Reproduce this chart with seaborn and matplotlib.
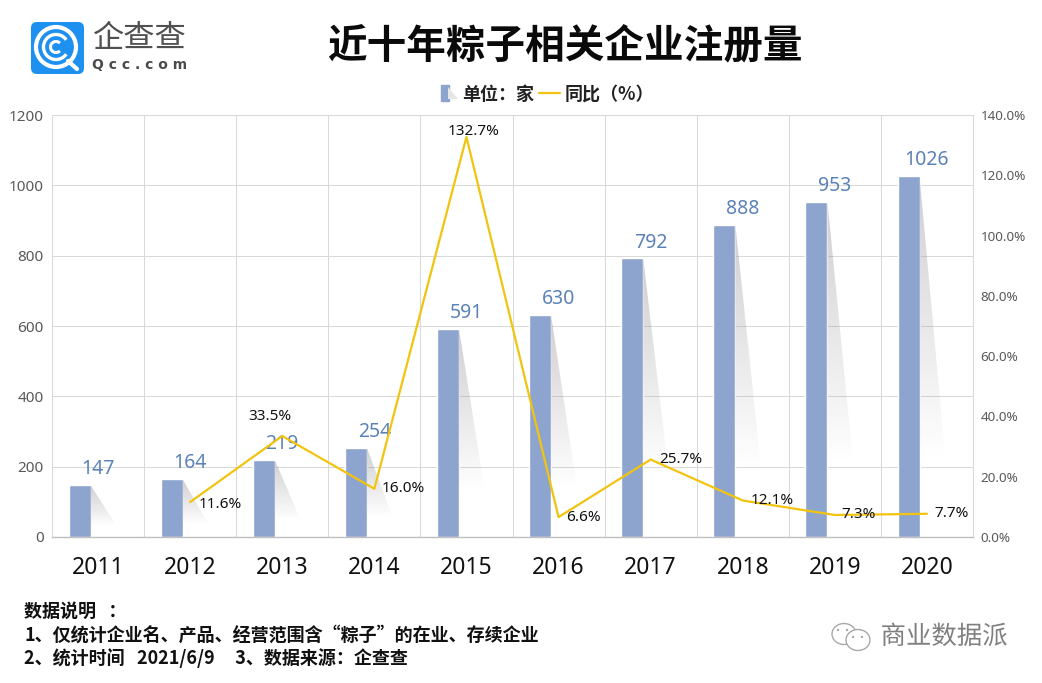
#%%
# Imports
import numpy as np
import pandas as pd
import matplotlib.pyplot as plt
import seaborn as sns
from matplotlib.legend_handler import HandlerPatch
from matplotlib.lines import Line2D
from matplotlib.patches import Arc, Circle, Ellipse, FancyBboxPatch, Patch, Polygon, Rectangle
import matplotlib.patheffects as pe

#%%
# Dados
years = ['2011', '2012', '2013', '2014', '2015', '2016', '2017', '2018', '2019', '2020']
counts = [147, 164, 219, 254, 591, 630, 792, 888, 953, 1026]
yoy = [np.nan, 11.6, 33.5, 16.0, 132.7, 6.6, 25.7, 12.1, 7.3, 7.7]
yoy_labels = ['', '11.6%', '33.5%', '16.0%', '132.7%', '6.6%', '25.7%', '12.1%', '7.3%', '7.7%']
# label offsets in px from the line point
yoy_offsets = [(0, 0), (30, -2), (-12, 20), (29, 0), (7, 6), (25, 0), (30, 0), (29, 0), (24, 0), (25, 0)]

notes = ['数据说明   ：',
         '1、仅统计企业名、产品、经营范围含“粽子”的在业、存续企业',
         '2、统计时间   2021/6/9     3、数据来源：企查查']

BAR = '#8DA4CE'
LABEL = '#5B82B8'
LINE = '#F2C40F'
GRID = '#D9D9D9'
CJK = ['Noto Sans CJK SC', 'DejaVu Sans']

#%%
sns.set_theme(style='white')
plt.rcParams['font.family'] = ['Noto Sans', 'Noto Sans CJK SC', 'DejaVu Sans']

df = pd.DataFrame({'year': years, 'count': counts, 'yoy': yoy})

W, H = 1042, 683
fig = plt.figure(figsize=(W / 100, H / 100), dpi=100)
ax = fig.add_axes([52 / W, 1 - 537 / H, 921 / W, 422 / H])

sns.barplot(data=df, x='year', y='count', color=BAR, saturation=1, width=0.239, ax=ax)
ax.set_xlim(-0.5, 9.5)
ax.set_ylim(0, 1200)

# bars sit left of the category centre
for bar in ax.patches:
    bar.set_x(bar.get_x() - 0.2)

# grey fading shadow behind each bar
grad = np.zeros((256, 1, 4))
grad[..., :3] = 0.55
grad[..., 3] = np.linspace(0.42, 0, 256)[:, None]
for bar in list(ax.patches):
    xr = bar.get_x() + bar.get_width()
    top = bar.get_height()
    low = top * 0.22
    im = ax.imshow(grad, extent=[xr, xr + 0.28, low, top], aspect='auto', zorder=1)
    im.set_clip_path(Polygon([(xr, top), (xr + 0.28, low), (xr, low)], transform=ax.transData))
ax.set_xlim(-0.5, 9.5)
ax.set_ylim(0, 1200)

ax.set_xlabel('')
ax.set_ylabel('')
ax.set_axisbelow(True)
ax.set_yticks(range(0, 1201, 200))
ax.set_xticks(np.arange(0.5, 9.5), minor=True)
ax.grid(axis='y', color=GRID, lw=0.75)
ax.grid(axis='x', which='minor', color=GRID, lw=0.75)
ax.tick_params(axis='x', which='both', length=0)
ax.tick_params(axis='x', labelsize=16.5, labelcolor='#111111', pad=13.5)
ax.tick_params(axis='y', length=0, labelsize=11, labelcolor='#595959', pad=6)
for side in ['top', 'left', 'right']:
    ax.spines[side].set_color(GRID)
    ax.spines[side].set_linewidth(0.75)
ax.spines['bottom'].set_color('#BFBFBF')
ax.spines['bottom'].set_linewidth(1)

for i, c in enumerate(counts):
    ax.annotate(str(c), (i, c), xytext=(0, 11.5), textcoords='offset points',
                ha='center', va='center', fontsize=14, color=LABEL, zorder=6)

#%%
# Linha do crescimento no eixo direito
ax2 = ax.twinx()
sns.lineplot(data=df, x='year', y='yoy', color=LINE, lw=1.6, errorbar=None, ax=ax2)
ax2.set_ylim(0, 140)
ax2.set_yticks(range(0, 141, 20))
ax2.set_yticklabels([f'{v:.1f}%' for v in range(0, 141, 20)])
ax2.set_ylabel('')
ax2.set_xlabel('')
ax2.grid(False)
ax2.tick_params(axis='y', length=0, labelsize=9.7, labelcolor='#595959', pad=5.5)
for spine in ax2.spines.values():
    spine.set_visible(False)

for i, (val, lab, off) in enumerate(zip(yoy, yoy_labels, yoy_offsets)):
    if lab:
        ax2.annotate(lab, (i, val), xytext=(off[0] * 0.72, off[1] * 0.72), textcoords='offset points',
                     ha='center', va='center', fontsize=11, color='#111111', zorder=7)

#%%
# Legenda, título e notas
def narrow_bar(legend, orig_handle, xdescent, ydescent, width, height, fontsize):
    return Rectangle((width * 0.2, -1), width * 0.38, height + 2)

handles = [Patch(color=BAR, label='单位：家'), Line2D([], [], color=LINE, lw=1.6, label='同比（%）')]
fig.legend(handles=handles, loc='center', bbox_to_anchor=(545.5 / W, 1 - 94 / H), ncol=2, frameon=False,
           prop={'family': CJK, 'size': 13, 'weight': 'bold'}, labelcolor='#222222', handlelength=1.17,
           handletextpad=0.22, columnspacing=0.28, handler_map={handles[0]: HandlerPatch(patch_func=narrow_bar)})

fig.text(565 / W, 1 - 46 / H, '近十年粽子相关企业注册量', ha='center', va='center',
         fontsize=28.5, fontweight='bold', color='#0a0a0a', family=CJK)

for y, line in zip([611, 635, 658], notes):
    fig.text(24 / W, 1 - y / H, line, ha='left', va='center', fontsize=13, fontweight='bold',
             color='#111111', family=CJK)

#%%
# Logo e marca d'água, desenhados em coordenadas de pixel
over = fig.add_axes([0, 0, 1, 1], zorder=10)
over.set_xlim(0, W)
over.set_ylim(H, 0)
over.axis('off')

# sombra da amostra na legenda
over.add_patch(Polygon([(448, 87), (458, 99), (448, 99)], fc='#e6e6e6', ec='none'))

over.add_patch(FancyBboxPatch((36, 27), 43, 42, boxstyle='round,pad=5,rounding_size=6', fc='#1E90F0', ec='none'))
over.add_patch(Circle((56, 47), 20, fc='none', ec='white', lw=3))
over.add_patch(Arc((56, 47), 25, 25, theta1=35, theta2=325, ec='white', lw=2.4))
over.add_patch(Arc((56, 47), 11, 11, theta1=45, theta2=315, ec='white', lw=2.2))
over.plot([68, 77], [61, 69], color='white', lw=3, solid_capstyle='round')
over.text(140, 38, '企查查', ha='center', va='center', fontsize=22.5, color='#505050', family=CJK)
over.text(140, 65, 'Q c c . c o m', ha='center', va='center', fontsize=10, color='#4a4a4a', fontweight='bold',
          family='DejaVu Sans')

halo = [pe.withStroke(linewidth=2.5, foreground='white')]
over.text(944, 637, '商业数据派', ha='center', va='center', fontsize=18.3, color='#7f7f7f', path_effects=halo, family=CJK)
over.add_patch(Ellipse((844, 634), 24, 21, fc='white', ec='#a8a8a8', lw=1))
over.add_patch(Ellipse((858, 640), 24, 21, fc='white', ec='#a8a8a8', lw=1))
for cx, cy in [(838, 630), (847, 630), (853, 637), (862, 637)]:
    over.add_patch(Circle((cx, cy), 1.2, fc='#a8a8a8', ec='none'))

fig.savefig('out.png', dpi=100)
